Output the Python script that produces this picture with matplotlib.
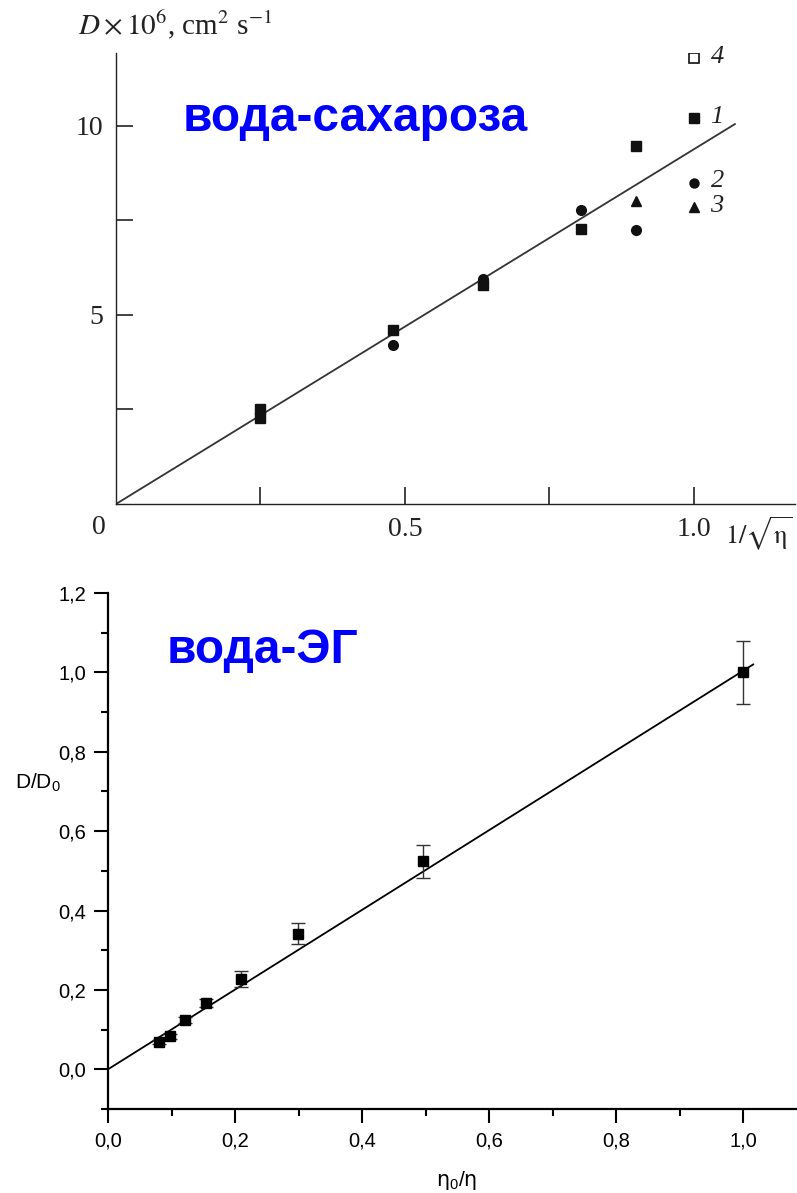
import matplotlib
matplotlib.use('Agg')
import matplotlib.pyplot as plt
import numpy as np

# верхний график: вода-сахароза
s1_x = [0.25, 0.25, 0.48, 0.635, 0.805, 0.90]
s1_y = [2.51, 2.28, 4.60, 5.80, 7.27, 9.47]
s2_x = [0.48, 0.635, 0.805, 0.90]
s2_y = [4.20, 5.95, 7.78, 7.25]
s3_x = [0.90]
s3_y = [8.02]
fit_top_x = [0.0, 1.071]
fit_top_y = [0.0, 10.05]
leg_labels = ['4', '1', '2', '3']
leg_y = [11.8, 10.2, 8.5, 7.85]

# нижний график: вода-ЭГ
eg_x = [0.081, 0.098, 0.121, 0.155, 0.209, 0.299, 0.496, 1.0]
eg_y = [0.068, 0.083, 0.125, 0.168, 0.228, 0.342, 0.524, 1.0]
eg_err = [0.005, 0.006, 0.008, 0.01, 0.02, 0.027, 0.042, 0.08]
fit_eg_x = [0.0, 1.016]
fit_eg_y = [0.0, 1.02]

fig = plt.figure(figsize=(7.97, 11.93), dpi=100)

# ---------- top ----------
serif = 'Liberation Serif'
ax1 = fig.add_axes([116/797, 1-504/1193, 679/797, 451/1193])
ax1.set_xlim(0, 1.175)
ax1.set_ylim(0, 11.93)
for s in ['top', 'right']:
    ax1.spines[s].set_visible(False)
for s in ['left', 'bottom']:
    ax1.spines[s].set_linewidth(1.0)
    ax1.spines[s].set_color('#222222')

ax1.plot(fit_top_x, fit_top_y, color='#333333', lw=1.3)
ax1.plot(s1_x, s1_y, 's', color='#111111', ms=7.5, ls='none')
ax1.plot(s2_x, s2_y, 'o', color='#111111', ms=7, ls='none')
ax1.plot(s3_x, s3_y, '^', color='#111111', ms=7, ls='none')

# легенда вручную
leg_marks = [dict(marker='s', mfc='white', mec='#111111', ms=6.5, mew=1.2),
             dict(marker='s', mfc='#111111', mec='#111111', ms=7),
             dict(marker='o', mfc='#111111', mec='#111111', ms=6.5),
             dict(marker='^', mfc='#111111', mec='#111111', ms=6.5)]
for lab, yy, mk in zip(leg_labels, leg_y, leg_marks):
    ax1.plot([1.0], [yy], ls='none', **mk)
    ax1.annotate(lab, (1.0, yy), xytext=(12, 1), textcoords='offset points',
                 va='center', ha='left', fontsize=19, style='italic',
                 family=serif, color='#222222')

ax1.set_xticks([0.25, 0.5, 0.75, 1.0])
ax1.set_xticklabels(['', '0.5', '', '1.0'])
ax1.set_yticks([2.5, 5, 7.5, 10])
ax1.set_yticklabels(['', '5', '', '10'])
ax1.tick_params(direction='in', length=12, width=1.2, color='#222222',
                labelsize=20, pad=9)
for lbl in ax1.get_xticklabels() + ax1.get_yticklabels():
    lbl.set_family(serif)
    lbl.set_color('#222222')
ax1.text(-0.018, -0.3, '0', ha='right', va='top', fontsize=20, family=serif,
         color='#222222')
ax1.text(1.17, -0.3, r'$1/\sqrt{\mathrm{\eta}}$', ha='right', va='top', fontsize=19,
         math_fontfamily='stix', color='#222222')
fig.text(175/797, 1-25/1193, r'$D \times 10^{6}$, cm$^{2}$ s$^{-1}$',
         ha='center', va='center', fontsize=21, family=serif,
         math_fontfamily='stix', color='#222222')
fig.text(183/797, 1-131/1193, 'вода-сахароза', ha='left', va='baseline',
         fontsize=34.5, fontweight='bold', family='Liberation Sans', color='#0000FF')

# ---------- bottom ----------
sans = 'Liberation Sans'
ax2 = fig.add_axes([108/797, 1-1109/1193, 689/797, 516/1193])
ax2.set_xlim(0, 1.085)
ax2.set_ylim(-0.1, 1.2)
for s in ['top', 'right']:
    ax2.spines[s].set_visible(False)
for s in ['left', 'bottom']:
    ax2.spines[s].set_linewidth(1.6)

ax2.plot(fit_eg_x, fit_eg_y, color='black', lw=1.3)
ax2.errorbar(eg_x, eg_y, yerr=eg_err, fmt='s', color='black', ms=7,
             ecolor='#333333', elinewidth=1.0, capsize=5, capthick=1.0)

ax2.set_xticks(np.arange(0, 1.01, 0.2))
ax2.set_xticks(np.arange(0.1, 1.1, 0.2), minor=True)
ax2.set_yticks(np.arange(0, 1.21, 0.2))
ax2.set_yticks(np.arange(-0.1, 1.2, 0.2), minor=True)
ax2.set_xticklabels(['0,0', '0,2', '0,4', '0,6', '0,8', '1,0'])
ax2.set_yticklabels(['0,0', '0,2', '0,4', '0,6', '0,8', '1,0', '1,2'])
ax2.tick_params(which='major', direction='out', length=10, width=1.5,
                labelsize=14.5, pad=6)
ax2.tick_params(which='minor', direction='out', length=5, width=1.5)
for lbl in ax2.get_xticklabels() + ax2.get_yticklabels():
    lbl.set_family(sans)
ax2.text(15/797, 1-783/1193, r'D/D$_{\mathregular{0}}$', ha='left', va='center',
         fontsize=15, family=sans, transform=fig.transFigure)
fig.text(457/797, 1-1180/1193, r'$\mathrm{\eta}_{\mathregular{0}}$/$\mathrm{\eta}$',
         ha='center', va='center', fontsize=15, family=sans,
         math_fontfamily='dejavusans')
fig.text(167/797, 1-663/1193, 'вода-ЭГ', ha='left', va='baseline',
         fontsize=34.5, fontweight='bold', family=sans, color='#0000FF')

fig.savefig('out.png', dpi=100)
